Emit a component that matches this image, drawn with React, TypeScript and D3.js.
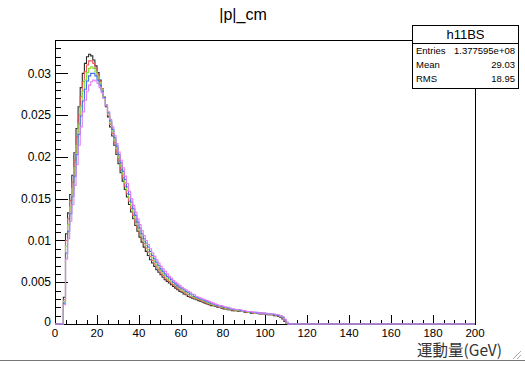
import * as d3 from "d3";
import React from "react";

// bin contents, 1 GeV bins starting at 0 GeV
const hBlack = [
  0, 0, 0, 0, 0.0032, 0.0108, 0.0133, 0.0155, 0.0178, 0.0205, 0.0234, 0.026, 0.0283, 0.03, 0.0312, 0.032,
  0.0323, 0.0321, 0.0316, 0.0309, 0.0301, 0.0292, 0.0282, 0.0271, 0.026, 0.0248, 0.0236, 0.0225, 0.0214, 0.0203,
  0.0192, 0.0181, 0.0171, 0.0161, 0.0152, 0.0143, 0.0134, 0.0126, 0.0118, 0.0111, 0.0104, 0.0098, 0.0092, 0.0087,
  0.0082, 0.0077, 0.0073, 0.0069, 0.0065, 0.0062, 0.0059, 0.0056, 0.0053, 0.0051, 0.0049, 0.0047, 0.0045, 0.0043,
  0.0041, 0.0039, 0.0038, 0.0036, 0.0035, 0.0033, 0.0032, 0.0031, 0.003, 0.0029, 0.0028, 0.0027, 0.0026, 0.0025,
  0.0024, 0.0023, 0.0022, 0.0022, 0.0021, 0.002, 0.002, 0.0019, 0.0018, 0.0018, 0.0017, 0.0017, 0.0016, 0.0016,
  0.0016, 0.0015, 0.0015, 0.0015, 0.0014, 0.0014, 0.0014, 0.0013, 0.0013, 0.0013, 0.0013, 0.0012, 0.0012, 0.0012,
  0.0012, 0.0011, 0.0011, 0.0011, 0.001, 0.001, 0.0009, 0.0008, 0.0006, 0.0003, 0,
];
const hRed = [
  0, 0, 0, 0, 0.0029, 0.01, 0.0126, 0.0148, 0.017, 0.0196, 0.0224, 0.025, 0.0272, 0.029, 0.0302, 0.031,
  0.0315, 0.0315, 0.0312, 0.0306, 0.0299, 0.0291, 0.0282, 0.0272, 0.0261, 0.025, 0.0239, 0.0228, 0.0217, 0.0206,
  0.0196, 0.0185, 0.0175, 0.0165, 0.0156, 0.0147, 0.0138, 0.013, 0.0122, 0.0115, 0.0108, 0.0102, 0.0096, 0.0091,
  0.0086, 0.0081, 0.0076, 0.0072, 0.0068, 0.0065, 0.0061, 0.0058, 0.0055, 0.0053, 0.0051, 0.0049, 0.0047, 0.0045,
  0.0043, 0.0041, 0.0039, 0.0038, 0.0036, 0.0035, 0.0033, 0.0032, 0.0031, 0.003, 0.0029, 0.0028, 0.0027, 0.0026,
  0.0025, 0.0024, 0.0023, 0.0022, 0.0022, 0.0021, 0.002, 0.002, 0.0019, 0.0018, 0.0018, 0.0017, 0.0017, 0.0016,
  0.0016, 0.0016, 0.0015, 0.0015, 0.0015, 0.0014, 0.0014, 0.0014, 0.0013, 0.0013, 0.0013, 0.0013, 0.0012, 0.0012,
  0.0012, 0.0012, 0.0011, 0.0011, 0.0011, 0.001, 0.001, 0.0009, 0.0007, 0.0004, 0.0001,
];
const hGreen = [
  0, 0, 0, 0, 0.0027, 0.0093, 0.0119, 0.014, 0.0162, 0.0187, 0.0214, 0.0239, 0.0261, 0.0279, 0.0292, 0.0301,
  0.0306, 0.0308, 0.0306, 0.0302, 0.0296, 0.0289, 0.0281, 0.0272, 0.0262, 0.0252, 0.0241, 0.0231, 0.022, 0.021,
  0.0199, 0.0189, 0.0179, 0.0169, 0.016, 0.0151, 0.0142, 0.0134, 0.0126, 0.0119, 0.0112, 0.0105, 0.0099, 0.0094,
  0.0089, 0.0084, 0.0079, 0.0075, 0.0071, 0.0067, 0.0064, 0.0061, 0.0058, 0.0055, 0.0053, 0.0051, 0.0049, 0.0047,
  0.0045, 0.0043, 0.0041, 0.0039, 0.0038, 0.0036, 0.0035, 0.0033, 0.0032, 0.0031, 0.003, 0.0029, 0.0028, 0.0027,
  0.0026, 0.0025, 0.0024, 0.0023, 0.0022, 0.0022, 0.0021, 0.002, 0.002, 0.0019, 0.0018, 0.0018, 0.0017, 0.0017,
  0.0016, 0.0016, 0.0016, 0.0015, 0.0015, 0.0015, 0.0014, 0.0014, 0.0014, 0.0013, 0.0013, 0.0013, 0.0013, 0.0012,
  0.0012, 0.0012, 0.0012, 0.0011, 0.0011, 0.0011, 0.001, 0.0009, 0.0008, 0.0005, 0.0001,
];
const hBlue = [
  0, 0, 0, 0, 0.0025, 0.0085, 0.0111, 0.0132, 0.0153, 0.0177, 0.0203, 0.0227, 0.0249, 0.0267, 0.0281, 0.0291,
  0.0297, 0.03, 0.03, 0.0297, 0.0292, 0.0286, 0.0279, 0.0271, 0.0262, 0.0253, 0.0243, 0.0233, 0.0223, 0.0213,
  0.0203, 0.0193, 0.0183, 0.0173, 0.0164, 0.0155, 0.0146, 0.0138, 0.013, 0.0122, 0.0115, 0.0108, 0.0102, 0.0097,
  0.0092, 0.0087, 0.0082, 0.0078, 0.0074, 0.007, 0.0066, 0.0063, 0.006, 0.0057, 0.0055, 0.0053, 0.005, 0.0048,
  0.0046, 0.0044, 0.0043, 0.0041, 0.0039, 0.0038, 0.0036, 0.0035, 0.0033, 0.0032, 0.0031, 0.003, 0.0029, 0.0028,
  0.0027, 0.0026, 0.0025, 0.0024, 0.0023, 0.0022, 0.0022, 0.0021, 0.002, 0.002, 0.0019, 0.0018, 0.0018, 0.0017,
  0.0017, 0.0017, 0.0016, 0.0016, 0.0015, 0.0015, 0.0015, 0.0014, 0.0014, 0.0014, 0.0013, 0.0013, 0.0013, 0.0013,
  0.0012, 0.0012, 0.0012, 0.0012, 0.0011, 0.0011, 0.001, 0.001, 0.0008, 0.0005, 0.0002,
];
const hMagenta = [
  0, 0, 0, 0, 0.0023, 0.0078, 0.0102, 0.0123, 0.0143, 0.0166, 0.0191, 0.0214, 0.0236, 0.0254, 0.0268, 0.0279,
  0.0286, 0.029, 0.0292, 0.0291, 0.0288, 0.0283, 0.0277, 0.027, 0.0262, 0.0254, 0.0245, 0.0236, 0.0226, 0.0216,
  0.0206, 0.0196, 0.0187, 0.0177, 0.0168, 0.0159, 0.015, 0.0142, 0.0134, 0.0126, 0.0119, 0.0112, 0.0106, 0.01,
  0.0095, 0.009, 0.0085, 0.0081, 0.0077, 0.0073, 0.0069, 0.0066, 0.0063, 0.006, 0.0057, 0.0055, 0.0052, 0.005,
  0.0048, 0.0046, 0.0044, 0.0042, 0.0041, 0.0039, 0.0038, 0.0036, 0.0035, 0.0033, 0.0032, 0.0031, 0.003, 0.0029,
  0.0028, 0.0027, 0.0026, 0.0025, 0.0024, 0.0023, 0.0022, 0.0022, 0.0021, 0.002, 0.002, 0.0019, 0.0018, 0.0018,
  0.0017, 0.0017, 0.0017, 0.0016, 0.0016, 0.0015, 0.0015, 0.0015, 0.0014, 0.0014, 0.0014, 0.0013, 0.0013, 0.0013,
  0.0013, 0.0012, 0.0012, 0.0012, 0.0012, 0.0011, 0.0011, 0.001, 0.0009, 0.0006, 0.0002,
];

const histos = [
  { values: hBlack, color: "#2a2a2a" },
  { values: hRed, color: "#ee5a5a" },
  { values: hGreen, color: "#86e03c" },
  { values: hBlue, color: "#3f6ff2" },
  { values: hMagenta, color: "#e57cf7" },
];

const xTicks = [0, 20, 40, 60, 80, 100, 120, 140, 160, 180, 200];
const yTicks = [0, 0.005, 0.01, 0.015, 0.02, 0.025, 0.03];
const yTickLabels = ["0", "0.005", "0.01", "0.015", "0.02", "0.025", "0.03"];

const statsRows = [
  ["Entries", "1.377595e+08"],
  ["Mean", "29.03"],
  ["RMS", "18.95"],
];

const font = "'Liberation Sans', Arial, Helvetica, sans-serif";

export default function App() {
  const W = 525;
  const H = 365;
  const left = 55, right = 475, top = 40, bottom = 324;

  const x = d3.scaleLinear().domain([0, 200]).range([left, right]);
  const y = d3.scaleLinear().domain([0, 0.034]).range([bottom, top]);

  const line = d3
    .line<[number, number]>()
    .x((d) => x(d[0]))
    .y((d) => y(d[1]))
    .curve(d3.curveStepAfter);

  const pathFor = (vals: number[]) => {
    const pts: [number, number][] = vals.map((v, i) => [i, v]);
    pts.push([vals.length, 0]);
    pts.push([200, 0]);
    return line(pts) || "";
  };

  const xMinor = d3.range(0, 200.001, 5);
  const yMinor = d3.range(0, 0.0341, 0.001);

  return (
    <div style={{ position: "absolute", left: 0, top: 0 }}>
      <svg width={W} height={H} style={{ display: "block", background: "#fff" }}>
        {/* title */}
        <text x={243} y={20} textAnchor="middle" fontFamily={font} fontSize={16} fill="#000">
          |p|_cm
        </text>

        {/* ticks */}
        <g stroke="#000" strokeWidth={1}>
          {yMinor.map((t, i) => (
            <line key={"ym" + i} x1={left} x2={left + 6} y1={Math.round(y(t)) + 0.5} y2={Math.round(y(t)) + 0.5} />
          ))}
          {yTicks.map((t, i) => (
            <line key={"yM" + i} x1={left} x2={left + 13} y1={Math.round(y(t)) + 0.5} y2={Math.round(y(t)) + 0.5} />
          ))}
          {xMinor.map((t, i) => (
            <line key={"xm" + i} x1={Math.round(x(t)) + 0.5} x2={Math.round(x(t)) + 0.5} y1={bottom} y2={bottom - 4} />
          ))}
          {xTicks.map((t, i) => (
            <line key={"xM" + i} x1={Math.round(x(t)) + 0.5} x2={Math.round(x(t)) + 0.5} y1={bottom} y2={bottom - 9} />
          ))}
        </g>

        {/* frame */}
        <rect x={left + 0.5} y={top + 0.5} width={right - left} height={bottom - top} fill="none" stroke="#000" strokeWidth={1} />

        {/* histograms */}
        {histos.map((h, i) => (
          <path key={i} d={pathFor(h.values)} fill="none" stroke={h.color} strokeWidth={1.1} />
        ))}

        {/* tick labels */}
        <g fontFamily={font} fill="#000">
          {yTicks.map((t, i) => (
            <text key={"yl" + i} x={left - 4} y={y(t) - (t === 0 ? 2 : 0)} dy="0.35em" textAnchor="end" fontSize={12}>
              {yTickLabels[i]}
            </text>
          ))}
          {xTicks.map((t, i) => (
            <text key={"xl" + i} x={x(t)} y={337} textAnchor="middle" fontSize={11.5}>
              {t}
            </text>
          ))}
        </g>

        {/* axis title */}
        <text
          x={502}
          y={356}
          textAnchor="end"
          fontFamily={"'Noto Sans CJK JP', " + font}
          fontSize={15.5}
          fill="#333"
        >
          運動量(GeV)
        </text>

        {/* stats box */}
        <g fontFamily={font}>
          <rect x={412.5} y={25.5} width={106} height={63} fill="#fff" stroke="#000" strokeWidth={1} />
          <line x1={412.5} x2={518.5} y1={43.5} y2={43.5} stroke="#000" />
          <text x={465.5} y={39} textAnchor="middle" fontSize={13} fill="#000">
            h11BS
          </text>
          {statsRows.map((r, i) => (
            <g key={i} fontSize={9.5} fill="#000">
              <text x={416} y={54 + i * 14}>{r[0]}</text>
              <text x={515} y={54 + i * 14} textAnchor="end">{r[1]}</text>
            </g>
          ))}
        </g>

        {/* window edge */}
        <line x1={0} x2={W} y1={360.5} y2={360.5} stroke="#777" strokeWidth={1} />
        <g stroke="#aaa">
          <line x1={513} y1={359} x2={521} y2={351} />
          <line x1={517} y1={359} x2={521} y2={355} />
        </g>
      </svg>
    </div>
  );
}
